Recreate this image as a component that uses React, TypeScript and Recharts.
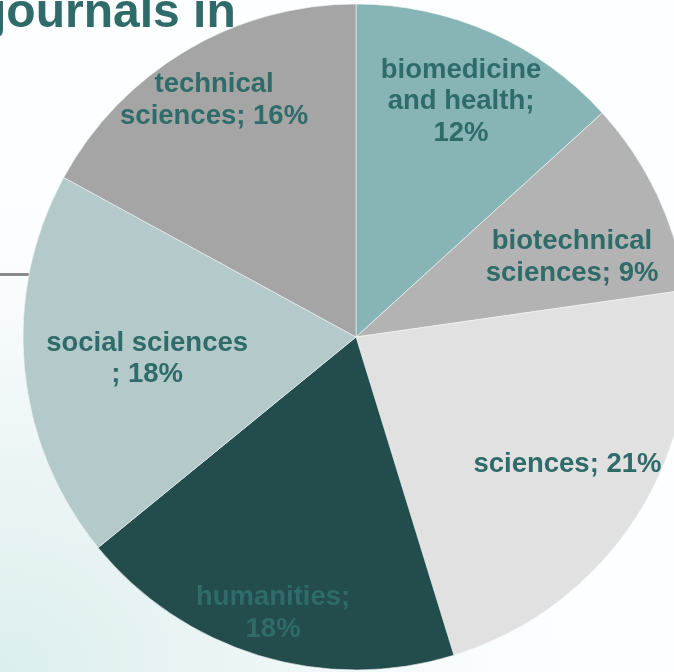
import React from "react";
import { Cell, Pie, PieChart } from "recharts";

// categories, clockwise from 12 o'clock
const categories = [
  "biomedicine and health",
  "biotechnical sciences",
  "sciences",
  "humanities",
  "social sciences",
  "technical sciences",
];

// slice sizes (share of the circle, %)
const shares = [13.25, 9.5, 22.5, 18.85, 18.85, 17.05];

// percentages as printed on the labels
const labelPercents = [12, 9, 21, 18, 18, 16];

// label text as it wraps in the original
const labelLines = [
  ["biomedicine", "and health;", "12%"],
  ["biotechnical", "sciences; 9%"],
  ["sciences; 21%"],
  ["humanities;", "18%"],
  ["social sciences", "; 18%"],
  ["technical", "sciences; 16%"],
];

const sliceColors = ["#87B4B5", "#B3B3B3", "#E1E1E1", "#234C4C", "#B3C9CA", "#A5A5A5"];
// where each label sits: fraction of the radius and a small turn off the slice middle (deg, clockwise)
const labelRadius = [0.78, 0.694, 0.737, 0.86, 0.63, 0.835];
const labelTurn = [0, 4.4, -1.9, 0, 0, 0];

const data = categories.map((name, i) => ({ name, value: shares[i], pct: labelPercents[i] }));

const LABEL_COLOR = "#2F6B69";
const FONT = "'Liberation Sans', Arial, sans-serif";
const RAD = Math.PI / 180;

function SliceLabel(props: any) {
  const { cx, cy, midAngle, outerRadius, index } = props;
  const r = outerRadius * labelRadius[index];
  const a = midAngle - labelTurn[index];
  const x = cx + r * Math.cos(-a * RAD);
  const y = cy + r * Math.sin(-a * RAD);
  const lines = labelLines[index];
  const lh = 31.5;
  const top = y - ((lines.length - 1) * lh) / 2;
  return (
    <text
      x={x}
      y={top}
      textAnchor="middle"
      dominantBaseline="central"
      fill={LABEL_COLOR}
      fontFamily={FONT}
      fontWeight="bold"
      fontSize={27.5}
    >
      {lines.map((l, i) => (
        <tspan key={i} x={x} y={top + i * lh}>
          {l}
        </tspan>
      ))}
    </text>
  );
}

export default function App() {
  return (
    <div
      style={{
        position: "fixed",
        left: 0,
        top: 0,
        width: 674,
        height: 672,
        overflow: "hidden",
        background:
          "radial-gradient(ellipse 620px 520px at 0% 100%, #DCEEEE 0%, #EEF6F7 45%, #FBFDFE 80%, #FDFEFF 100%)",
      }}
    >
      <svg width={674} height={672} style={{ position: "absolute", left: 0, top: 0 }}>
        <line x1={0} y1={274.5} x2={80} y2={274.5} stroke="#8A8A8A" strokeWidth={3} />
      </svg>
      <div style={{ position: "absolute", left: 0, top: 0 }}>
        <PieChart width={674} height={672} margin={{ top: 0, right: 0, bottom: 0, left: 0 }}>
          <Pie
            data={data}
            dataKey="value"
            nameKey="name"
            cx={356}
            cy={337}
            outerRadius={333}
            startAngle={90}
            endAngle={-270}
            stroke="#F4F6F6"
            strokeWidth={0.6}
            label={SliceLabel}
            labelLine={false}
            isAnimationActive={false}
          >
            {data.map((d, i) => (
              <Cell key={d.name} fill={sliceColors[i]} />
            ))}
          </Pie>
        </PieChart>
      </div>
      <div
        style={{
          position: "absolute",
          left: -7,
          top: -19,
          fontFamily: FONT,
          fontWeight: "bold",
          fontSize: 48,
          lineHeight: "60px",
          color: "#2F6B69",
          whiteSpace: "nowrap",
        }}
      >
        journals in
      </div>
    </div>
  );
}
